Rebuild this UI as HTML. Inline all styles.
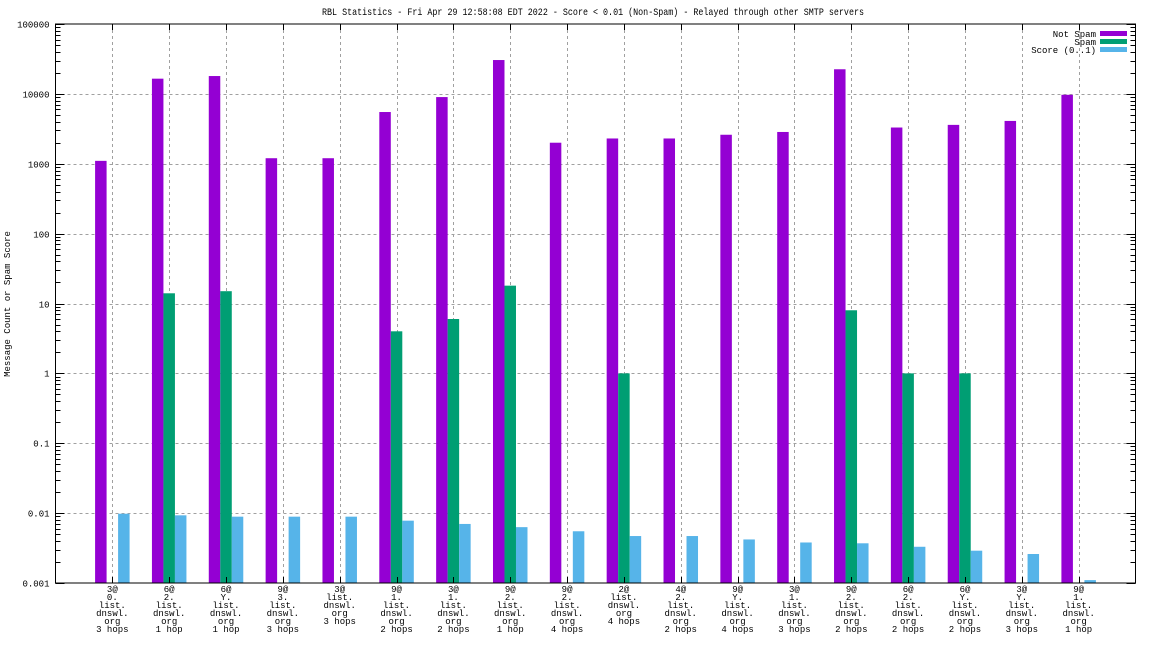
<!DOCTYPE html>
<html><head><meta charset="utf-8"><style>
html,body{margin:0;padding:0;background:#fff;}
svg{display:block;font-family:"Liberation Mono",monospace;}
</style></head><body>
<svg id="chart" width="1152" height="648" viewBox="0 0 1152 648" xmlns="http://www.w3.org/2000/svg">
<text x="593" y="15" font-size="10.5" text-anchor="middle" textLength="542" lengthAdjust="spacingAndGlyphs">RBL Statistics - Fri Apr 29 12:58:08 EDT 2022 - Score &lt; 0.01 (Non-Spam) - Relayed through other SMTP servers</text>
<text transform="translate(10,304) rotate(-90)" font-size="9" text-anchor="middle">Message Count or Spam Score</text>
<g id="grid"></g><g id="bars"></g><g id="axes"></g><g id="labels"></g>
<g font-size="9" text-anchor="end">
<text x="1096" y="37">Not Spam</text>
<rect x="1100" y="31" width="27" height="5" fill="#9400d3"/>
<text x="1096" y="45">Spam</text>
<rect x="1100" y="39" width="27" height="5" fill="#009e73"/>
<text x="1096" y="53">Score (0..1)</text>
<rect x="1100" y="47" width="27" height="5" fill="#56b4e9"/>
</g>
</svg>
<script>
const categories = [
"3@|0.|list.|dnswl.|org|3 hops","6@|2.|list.|dnswl.|org|1 hop","6@|Y.|list.|dnswl.|org|1 hop","9@|3.|list.|dnswl.|org|3 hops",
"3@|list.|dnswl.|org|3 hops","9@|1.|list.|dnswl.|org|2 hops","3@|1.|list.|dnswl.|org|2 hops","9@|2.|list.|dnswl.|org|1 hop",
"9@|2.|list.|dnswl.|org|4 hops","2@|list.|dnswl.|org|4 hops","4@|2.|list.|dnswl.|org|2 hops","9@|Y.|list.|dnswl.|org|4 hops",
"3@|1.|list.|dnswl.|org|3 hops","9@|2.|list.|dnswl.|org|2 hops","6@|2.|list.|dnswl.|org|2 hops","6@|Y.|list.|dnswl.|org|2 hops",
"3@|Y.|list.|dnswl.|org|3 hops","9@|1.|list.|dnswl.|org|1 hop"];
const notSpam = [1100,16500,18000,1200,1200,5500,9000,30500,2000,2300,2300,2600,2850,22500,3300,3600,4100,9700];
const spam = [0,14,15,0,0,4,6,18,0,1,0,0,0,8,1,1,0,0];
const score = [0.0098,0.0093,0.0089,0.0089,0.0089,0.0078,0.0070,0.0063,0.0055,0.0047,0.0047,0.0042,0.0038,0.0037,0.0033,0.0029,0.0026,0.0011];
const yTickLabels = ["0.001","0.01","0.1","1","10","100","1000","10000","100000"];

const NS="http://www.w3.org/2000/svg";
const L=55.5,R=1135.5,T=24,B=583;
const xScale=i=>L+(i+1)*(R-L)/19;
const yScale=v=>B-(Math.log10(v)+3)*(B-T)/8;
function mk(tag,attrs,parent){const e=document.createElementNS(NS,tag);for(const k in attrs)e.setAttribute(k,attrs[k]);parent.appendChild(e);return e;}
const grid=document.getElementById('grid'),bars=document.getElementById('bars'),axes=document.getElementById('axes'),labels=document.getElementById('labels');

yTickLabels.forEach((t,k)=>{
  const v=parseFloat(t),y=Math.round(yScale(v))+0.5;
  if(k>0&&k<8){const g=mk('line',{x1:L,x2:R,y1:y,y2:y,stroke:'#a0a0a0','stroke-dasharray':'3,3','stroke-width':1},grid);
  
  }
  const tx=mk('text',{x:L-6,y:y+3,'font-size':9,'text-anchor':'end'},axes);tx.textContent=t;
  
  
  if(k<8){for(let m=1;m<=10;m++){const yy=Math.round(yScale(v*m))+0.5;const len=(m==1||m==10)?9:5;
    mk('line',{x1:L,x2:L+len,y1:yy,y2:yy,stroke:'#000'},axes);mk('line',{x1:R-len,x2:R,y1:yy,y2:yy,stroke:'#000'},axes);}}
});
categories.forEach((c,i)=>{
  const x=Math.round(xScale(i))+0.5;
  const g=mk('line',{x1:x,x2:x,y1:T,y2:B,stroke:'#a0a0a0','stroke-dasharray':'3,3'},grid);
  
  
  mk('line',{x1:x,x2:x,y1:B,y2:B-6,stroke:'#000'},axes);mk('line',{x1:x,x2:x,y1:T,y2:T+6,stroke:'#000'},axes);
  const w=11.5,cx=xScale(i);
  [[notSpam,'#9400d3',-1.5,'bar-not-spam'],[spam,'#009e73',-0.5,'bar-spam'],[score,'#56b4e9',0.5,'bar-score']].forEach(([arr,col,off,nm])=>{
    const v=arr[i];if(!(v>0))return;
    const y=yScale(v);
    const r=mk('rect',{x:cx+off*w,y:y,width:w,height:B-y,fill:col},bars);
    
    
  });
  const lines=c.split('|');
  const t=mk('text',{x:cx,y:592,'font-size':9,'text-anchor':'middle'},labels);
  
  
  lines.forEach((ln,j)=>{const s=mk('tspan',{x:cx,dy:j?8:0},t);s.textContent=ln;});
});
const fr=mk('rect',{x:L,y:T,width:R-L,height:B-T,fill:'none',stroke:'#000','stroke-width':1},axes);


</script>
</body></html>
